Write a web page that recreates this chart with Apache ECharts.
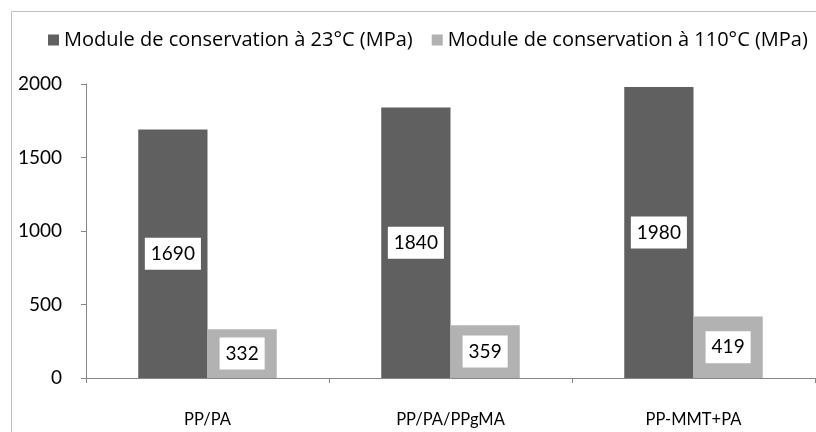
<!DOCTYPE html>
<html>
<head>
<meta charset="utf-8">
<script src="https://cdn.jsdelivr.net/npm/echarts@6/dist/echarts.min.js"></script>
<style>
  html, body { margin: 0; padding: 0; background: #fff; }
  #chart { width: 816px; height: 432px; }
</style>
</head>
<body>
<div id="chart"></div>
<script>
// données
const categories = ['PP/PA', 'PP/PA/PPgMA', 'PP-MMT+PA']
const seriesNames = ['Module de conservation à 23°C (MPa)', 'Module de conservation à 110°C (MPa)']
const module23 = [1690, 1840, 1980]
const module110 = [332, 359, 419]
const yTicks = [0, 500, 1000, 1500, 2000]

const font = 'Lato, "Open Sans", sans-serif'
const legendFont = '"Open Sans", Lato, sans-serif'
const colors = ['#606060', '#b2b2b2']

const valueLabel = {
  show: true,
  position: 'inside',
  color: '#000',
  fontFamily: font,
  fontSize: 19,
  lineHeight: 19,
  backgroundColor: '#fff',
  padding: [7, 6, 6, 6]
}

const chart = echarts.init(document.getElementById('chart'))
chart.setOption({
  animation: false,
  textStyle: { fontFamily: font },
  graphic: [{
    type: 'rect',
    shape: { x: 11.5, y: 11.5, width: 900, height: 500 },
    style: { fill: 'none', stroke: '#bfbfbf', lineWidth: 1 },
    silent: true
  }],
  legend: {
    top: 30,
    left: 48,
    right: 0,
    padding: 0,
    itemWidth: 11,
    itemHeight: 11,
    itemGap: 19,
    icon: 'rect',
    textStyle: { fontFamily: legendFont, fontSize: 20, color: '#000' },
    data: seriesNames
  },
  grid: { left: 86, right: 1, top: 84, bottom: 54 },
  xAxis: {
    type: 'category',
    data: categories,
    axisLine: { lineStyle: { color: '#868686' } },
    axisTick: { show: true, length: 5, lineStyle: { color: '#868686' } },
    axisLabel: { color: '#000', fontFamily: font, fontSize: 16.5, margin: 33 }
  },
  yAxis: {
    type: 'value',
    min: yTicks[0],
    max: yTicks[yTicks.length - 1],
    interval: 500,
    axisLine: { show: true, lineStyle: { color: '#868686' } },
    axisTick: { show: true, length: 5, lineStyle: { color: '#868686' } },
    splitLine: { show: false },
    axisLabel: { color: '#000', fontFamily: font, fontSize: 19, margin: 24, formatter: v => String(v) }
  },
  series: [
    {
      name: seriesNames[0],
      type: 'bar',
      data: module23,
      barWidth: '28.5%',
      barGap: '0%',
      itemStyle: { color: colors[0] },
      label: valueLabel
    },
    {
      name: seriesNames[1],
      type: 'bar',
      data: module110,
      barWidth: '28.5%',
      itemStyle: { color: colors[1] },
      label: valueLabel
    }
  ]
})
</script>
</body>
</html>
